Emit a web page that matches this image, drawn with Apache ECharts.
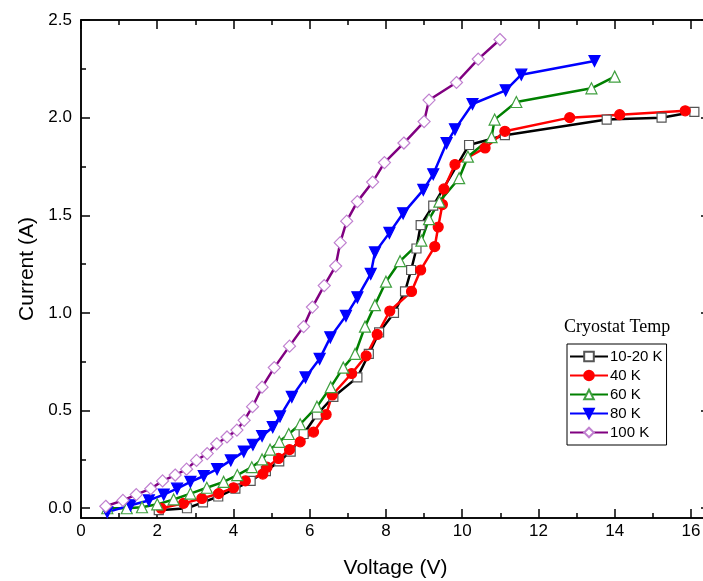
<!DOCTYPE html>
<html><head><meta charset="utf-8">
<script src="https://cdn.jsdelivr.net/npm/echarts@6/dist/echarts.min.js"></script>
<style>html,body{margin:0;padding:0;background:#fff}#c{width:703px;height:581px}</style>
</head><body><div id="c"></div>
<script>
const seriesNames = ['10-20 K', '40 K', '60 K', '80 K', '100 K'];
const xTicks = [0, 2, 4, 6, 8, 10, 12, 14, 16];
const xMinorTicks = [1, 3, 5, 7, 9, 11, 13, 15];
const yTicks = [0, 0.5, 1.0, 1.5, 2.0, 2.5];
const yMinorTicks = [0.25, 0.75, 1.25, 1.75, 2.25];

const k10_20 = [[2.04,-0.01],[2.78,0.0],[3.2,0.03],[3.6,0.06],[4.05,0.1],[4.45,0.14],[4.85,0.19],[5.2,0.24],[5.5,0.29],[5.84,0.38],[6.19,0.48],[6.62,0.57],[7.25,0.67],[7.55,0.79],[7.82,0.9],[8.21,1.0],[8.5,1.11],[8.66,1.22],[8.8,1.33],[8.91,1.45],[9.24,1.55],[10.18,1.86],[11.12,1.91],[13.79,1.99],[15.23,2.0],[16.09,2.03]];
const k40 = [[2.1,0.0],[2.69,0.025],[3.17,0.05],[3.61,0.075],[4.0,0.105],[4.31,0.14],[4.77,0.175],[4.88,0.21],[5.18,0.255],[5.47,0.3],[5.75,0.34],[6.1,0.39],[6.43,0.48],[6.59,0.58],[7.1,0.69],[7.48,0.78],[7.77,0.89],[8.1,1.01],[8.67,1.11],[8.91,1.22],[9.28,1.34],[9.37,1.44],[9.48,1.555],[9.52,1.635],[9.81,1.76],[10.6,1.845],[11.12,1.93],[12.82,2.0],[14.13,2.015],[15.85,2.035]];
const k60 = [[0.69,0.0],[1.2,0.0],[1.6,0.005],[2.0,0.02],[2.43,0.045],[2.87,0.075],[3.3,0.105],[3.74,0.135],[4.1,0.17],[4.48,0.21],[4.75,0.25],[4.96,0.3],[5.2,0.34],[5.45,0.38],[5.75,0.43],[6.19,0.52],[6.55,0.62],[6.88,0.72],[7.19,0.79],[7.45,0.93],[7.71,1.04],[8.0,1.16],[8.37,1.265],[8.93,1.37],[9.13,1.48],[9.4,1.57],[9.92,1.69],[10.15,1.8],[10.77,1.9],[10.85,1.99],[11.42,2.08],[13.39,2.15],[14.0,2.21]];
const k80 = [[0.69,-0.02],[1.3,0.015],[1.78,0.04],[2.17,0.07],[2.52,0.1],[2.87,0.135],[3.22,0.165],[3.57,0.2],[3.93,0.245],[4.27,0.29],[4.51,0.325],[4.75,0.37],[5.03,0.415],[5.22,0.47],[5.53,0.57],[5.89,0.67],[6.26,0.765],[6.54,0.875],[6.95,0.985],[7.25,1.08],[7.6,1.2],[7.71,1.31],[8.09,1.41],[8.45,1.51],[8.98,1.63],[9.24,1.71],[9.59,1.87],[9.81,1.94],[10.27,2.07],[11.14,2.14],[11.55,2.22],[13.47,2.29]];
const k100 = [[0.65,0.01],[1.1,0.04],[1.45,0.07],[1.83,0.1],[2.14,0.14],[2.47,0.17],[2.77,0.2],[3.03,0.245],[3.31,0.28],[3.56,0.33],[3.83,0.365],[4.09,0.4],[4.28,0.45],[4.5,0.52],[4.75,0.62],[5.07,0.72],[5.47,0.83],[5.84,0.93],[6.07,1.03],[6.38,1.14],[6.68,1.24],[6.8,1.36],[6.97,1.47],[7.25,1.57],[7.65,1.67],[7.96,1.77],[8.47,1.87],[9.0,1.98],[9.13,2.09],[9.85,2.18],[10.42,2.3],[10.99,2.4]];

const XMIN = 0, XMAX = 16.5, YMIN = -0.05, YMAX = 2.5;
const font = 'Liberation Sans, Arial, sans-serif';

function xAx(pos, vals, len, labels) {
  return {
    type: 'value', position: pos, min: XMIN, max: XMAX,
    axisLine: { show: true, onZero: false, lineStyle: { color: '#000', width: 1.5 } },
    axisTick: { show: true, inside: true, length: len, customValues: vals, lineStyle: { color: '#000', width: 1.5 } },
    axisLabel: labels ? { show: true, customValues: vals, color: '#000', fontFamily: font, fontSize: 17, margin: 5 } : { show: false },
    splitLine: { show: false },
    name: labels ? 'Voltage (V)' : '', nameLocation: 'middle', nameGap: 40,
    nameTextStyle: { color: '#000', fontFamily: font, fontSize: 21 }
  };
}
function yAx(pos, vals, len, labels) {
  return {
    type: 'value', position: pos, min: YMIN, max: YMAX,
    axisLine: { show: true, onZero: false, lineStyle: { color: '#000', width: 1.5 } },
    axisTick: { show: true, inside: true, length: len, customValues: vals, lineStyle: { color: '#000', width: 1.5 } },
    axisLabel: labels ? { show: true, customValues: vals, color: '#000', fontFamily: font, fontSize: 17, margin: 9,
      formatter: v => v.toFixed(1) } : { show: false },
    splitLine: { show: false },
    name: labels ? 'Current (A)' : '', nameLocation: 'middle', nameGap: 42,
    nameTextStyle: { color: '#000', fontFamily: font, fontSize: 21 }
  };
}

function mk(name, data, lineColor, symbol, size, fill, border) {
  return {
    name, type: 'line', data, xAxisIndex: 0, yAxisIndex: 0,
    symbol, symbolSize: size, showAllSymbol: true,
    lineStyle: { color: lineColor, width: 2.5 },
    itemStyle: { color: fill, borderColor: border, borderWidth: 1.2 },
    emphasis: { disabled: true }, animation: false
  };
}

const chart = echarts.init(document.getElementById('c'));
chart.setOption({
  animation: false,
  backgroundColor: '#fff',
  grid: { left: 81, top: 20, width: 629, height: 498, containLabel: false, outerBoundsMode: 'none' },
  xAxis: [xAx('bottom', xTicks, 9, true), xAx('bottom', xMinorTicks, 5, false),
          xAx('top', xTicks, 9, false), xAx('top', xMinorTicks, 5, false)],
  yAxis: [yAx('left', yTicks, 9, true), yAx('left', yMinorTicks, 5, false),
          yAx('right', yTicks, 9, false), yAx('right', yMinorTicks, 5, false)],
  legend: {
    orient: 'vertical', left: 567, top: 344,
    data: seriesNames,
    itemWidth: 38, itemHeight: 12, itemGap: 4,
    borderColor: '#000', borderWidth: 1, padding: [5, 4, 5, 2],
    textStyle: { color: '#000', fontFamily: font, fontSize: 15, padding: [0, 0, 0, -3] },
    selectedMode: false
  },
  graphic: [{
    type: 'text', left: 564, top: 318,
    style: { text: 'Cryostat Temp', fill: '#000', font: '18px "Liberation Serif", "Times New Roman", serif' }
  }],
  series: [
    mk(seriesNames[0], k10_20, '#000000', 'rect', 9, '#ffffff', '#555555'),
    mk(seriesNames[1], k40, '#ff0000', 'circle', 10, '#ff0000', '#ff0000'),
    mk(seriesNames[2], k60, '#008000', 'triangle', 11, '#ffffff', '#40a040'),
    mk(seriesNames[3], k80, '#0000ff', 'path://M0,0 L10,0 L5,10 Z', 11, '#0000ff', '#0000ff'),
    mk(seriesNames[4], k100, '#800080', 'diamond', 12, '#ffffff', '#c080d0')
  ]
});
</script></body></html>
